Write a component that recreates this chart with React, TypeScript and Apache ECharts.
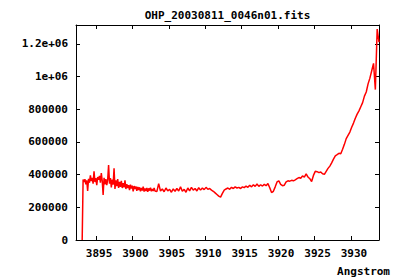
import React, { useEffect, useRef } from "react";
import * as echarts from "echarts";

const chartTitle = "OHP_20030811_0046n01.fits";
const xAxisName = "Angstrom";

// blue end of the spectrum: finer sampling (Angstrom)
const blueStart = 3893.1;
const blueStep = 0.125;
const fluxBlue = [
  0, 370000, 355000, 372000, 340000, 365000, 300000, 375000, 350000, 395000,
  360000, 380000, 345000, 420000, 355000, 378000, 335000, 385000, 368000, 392000,
  350000, 410000, 362000, 275000, 380000, 340000, 372000, 335000, 368000, 458000,
  345000, 378000, 322000, 370000, 338000, 438000, 312000, 365000, 330000, 372000,
  318000, 355000, 325000, 362000, 318000, 348000, 322000, 365000, 312000, 342000,
  318000, 335000, 305000, 338000, 315000, 332000, 298000, 330000, 312000, 328000,
  300000, 325000, 306000, 322000, 298000, 318000, 302000, 326000, 296000, 315000,
  300000, 318000, 295000, 316000, 302000, 320000, 298000, 312000, 300000, 318000,
  300000,
];

// rest of the spectrum
const redStart = 3903.35;
const redStep = 0.25;
const fluxRed = [
  296000, 345000, 300000, 312000, 295000, 318000, 300000, 310000, 292000,
  312000, 298000, 315000, 300000, 325000, 298000, 310000, 292000, 318000, 300000,
  322000, 305000, 315000, 300000, 320000, 305000, 318000, 308000, 322000, 310000,
  315000, 305000, 298000, 288000, 278000, 268000, 262000, 285000, 305000, 312000,
  318000, 310000, 322000, 315000, 325000, 318000, 322000, 315000, 325000, 320000,
  330000, 322000, 335000, 325000, 338000, 328000, 342000, 328000, 338000, 330000,
  340000, 332000, 345000, 320000, 290000, 298000, 325000, 355000, 362000, 340000,
  332000, 335000, 355000, 362000, 360000, 365000, 362000, 368000, 375000, 382000,
  378000, 392000, 385000, 405000, 385000, 375000, 358000, 395000, 420000, 418000,
  412000, 416000, 405000, 402000, 420000, 438000, 452000, 472000, 495000, 515000,
  522000, 530000, 528000, 555000, 585000, 620000, 640000, 660000, 690000, 715000,
  745000, 770000, 790000, 815000, 840000, 880000, 905000, 955000, 990000, 1035000,
  1080000, 920000, 1290000, 1210000,
];

const xMin = 3892.25;
const xMax = 3933.85;
const xTicks = [3895, 3900, 3905, 3910, 3915, 3920, 3925, 3930];

const yMin = 0;
const yMax = 1315000;
const yInterval = 200000;
const yTicks = [0, 200000, 400000, 600000, 800000, 1000000, 1200000];
const yTickLabels = ["0", "200000", "400000", "600000", "800000", "1e+06", "1.2e+06"];

const FONT = "DejaVu Sans Mono";

export default function App() {
  const ref = useRef<HTMLDivElement>(null);

  useEffect(() => {
    if (!ref.current) return;
    const chart = echarts.init(ref.current, null, { renderer: "svg" });
    const data = [
      ...fluxBlue.map((v, i) => [blueStart + i * blueStep, v]),
      ...fluxRed.map((v, i) => [redStart + i * redStep, v]),
    ];

    const labelStyle = {
      fontFamily: FONT,
      fontWeight: "bold" as const,
      fontSize: 11,
      color: "#000",
    };
    const axisLine = { show: true, onZero: false, lineStyle: { color: "#000", width: 1 } };
    const axisTick = { show: true, inside: true, length: 4, lineStyle: { color: "#000", width: 1 } };

    const xLabelFmt = (v: number) => {
      const hit = xTicks.find((t) => Math.abs(t - v) < 1e-6);
      return hit !== undefined ? String(hit) : "";
    };
    const yLabelFmt = (v: number) => {
      const idx = yTicks.findIndex((t) => Math.abs(t - v) < 1e-3);
      return idx >= 0 ? yTickLabels[idx] : "";
    };

    chart.setOption({
      animation: false,
      backgroundColor: "#fff",
      grid: { left: 76, right: 21, top: 25, bottom: 40, containLabel: false },
      xAxis: [
        {
          type: "value",
          position: "bottom",
          min: xMin,
          max: xMax,
          splitNumber: 8,
          axisLine,
          axisTick,
          splitLine: { show: false },
          axisLabel: { ...labelStyle, margin: 8, padding: [0, 0, 0, 6], formatter: xLabelFmt },
        },
        {
          type: "value",
          position: "top",
          min: xMin,
          max: xMax,
          splitNumber: 8,
          axisLine,
          axisTick,
          splitLine: { show: false },
          axisLabel: { show: false },
        },
      ],
      yAxis: [
        {
          type: "value",
          position: "left",
          min: yMin,
          max: yMax,
          interval: yInterval,
          axisLine,
          axisTick,
          splitLine: { show: false },
          axisLabel: { ...labelStyle, margin: 8, formatter: yLabelFmt },
        },
        {
          type: "value",
          position: "right",
          min: yMin,
          max: yMax,
          interval: yInterval,
          axisLine,
          axisTick,
          splitLine: { show: false },
          axisLabel: { show: false },
        },
      ],
      graphic: [
        {
          type: "text",
          x: 227.5,
          y: 15,
          style: {
            text: chartTitle,
            fill: "#000",
            font: `bold 11px "${FONT}"`,
            textAlign: "center",
            textVerticalAlign: "middle",
          },
        },
        {
          type: "text",
          x: 390,
          y: 271,
          style: {
            text: xAxisName,
            fill: "#000",
            font: `bold 11px "${FONT}"`,
            textAlign: "right",
            textVerticalAlign: "middle",
          },
        },
      ],
      series: [
        {
          type: "line",
          xAxisIndex: 0,
          yAxisIndex: 0,
          data,
          showSymbol: false,
          symbol: "none",
          lineStyle: { color: "#ff0000", width: 1.5 },
          clip: true,
        },
      ],
    });

    return () => chart.dispose();
  }, []);

  return (
    <div
      ref={ref}
      style={{ position: "fixed", left: 0, top: 0, width: 400, height: 280, background: "#fff" }}
    />
  );
}
